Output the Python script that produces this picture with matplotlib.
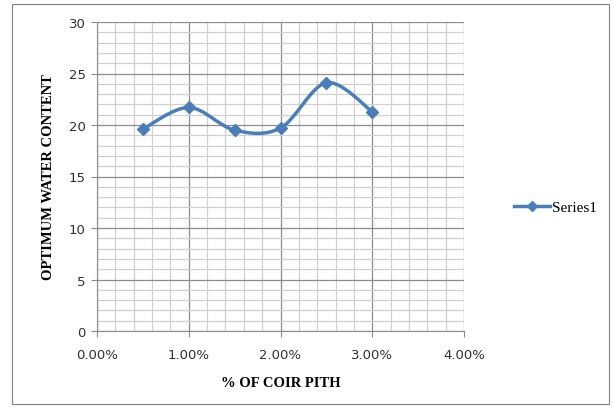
import matplotlib as mpl
mpl.use('Agg')
import matplotlib.pyplot as plt
from matplotlib.path import Path
from matplotlib.patches import PathPatch, Rectangle
from matplotlib.lines import Line2D
from matplotlib.ticker import MultipleLocator, PercentFormatter

coir_pith = [0.5, 1.0, 1.5, 2.0, 2.5, 3.0]
water_content = [19.6, 21.7, 19.5, 19.7, 24.1, 21.3]
series_name = "Series1"
blue = '#4a7ebb'


def smooth_path(xs, ys, t=1.0 / 6):
    # Excel-style smoothed line: cubic bezier through each point
    verts = [(xs[0], ys[0])]
    codes = [Path.MOVETO]
    n = len(xs)
    for i in range(n - 1):
        x0, y0 = xs[max(i - 1, 0)], ys[max(i - 1, 0)]
        x1, y1 = xs[i], ys[i]
        x2, y2 = xs[i + 1], ys[i + 1]
        x3, y3 = xs[min(i + 2, n - 1)], ys[min(i + 2, n - 1)]
        c1 = (x1 + (x2 - x0) * t, y1 + (y2 - y0) * t)
        c2 = (x2 - (x3 - x1) * t, y2 - (y3 - y1) * t)
        verts += [c1, c2, (x2, y2)]
        codes += [Path.CURVE4] * 3
    return Path(verts, codes)


fig = plt.figure(figsize=(6.13, 4.10), dpi=100)
fig.patches.append(Rectangle((12 / 613, 5 / 410), 597 / 613, 400 / 410,
                             transform=fig.transFigure, fill=False,
                             edgecolor='#808080', linewidth=0.8))

ax = fig.add_axes([97 / 613, 1 - 332 / 410, 367 / 613, 309 / 410])
ax.set_xlim(0, 4)
ax.set_ylim(0, 30)
ax.xaxis.set_major_locator(MultipleLocator(1))
ax.xaxis.set_minor_locator(MultipleLocator(0.2))
ax.yaxis.set_major_locator(MultipleLocator(5))
ax.yaxis.set_minor_locator(MultipleLocator(1))
ax.xaxis.set_major_formatter(PercentFormatter(decimals=2))
ax.grid(which='major', color='#8c8c8c', linewidth=0.9)
ax.grid(which='minor', color='#d0d0d0', linewidth=0.9)
ax.set_axisbelow(True)
for s in ['top', 'right']:
    ax.spines[s].set_visible(False)
for s in ['left', 'bottom']:
    ax.spines[s].set_color('#8c8c8c')
ax.tick_params(which='major', length=4, color='#8c8c8c', labelsize=9.5,
               labelcolor='#303030', pad=4)
ax.tick_params(which='minor', length=0)
ax.tick_params(axis='x', pad=8)

ax.add_patch(PathPatch(smooth_path(coir_pith, water_content), fill=False,
                       edgecolor=blue, linewidth=2.5, zorder=3))
ax.plot(coir_pith, water_content, linestyle='none', marker='D',
        markersize=6.5, color=blue, zorder=4)

ax.set_xlabel("% OF COIR PITH", family='Liberation Serif', fontweight='bold',
              fontsize=10.5, labelpad=11)
ax.set_ylabel("OPTIMUM WATER CONTENT", family='Liberation Serif',
              fontweight='bold', fontsize=10.5, labelpad=10)

handle = Line2D([], [], color=blue, linewidth=2.5, marker='D', markersize=5)
fig.legend([handle], [series_name], loc='center left',
           bbox_to_anchor=(500 / 613, 1 - 208 / 410), frameon=False,
           prop={'family': 'Liberation Serif', 'size': 11},
           handlelength=2.4, handletextpad=0.1)

plt.savefig("out.png", dpi=100)
